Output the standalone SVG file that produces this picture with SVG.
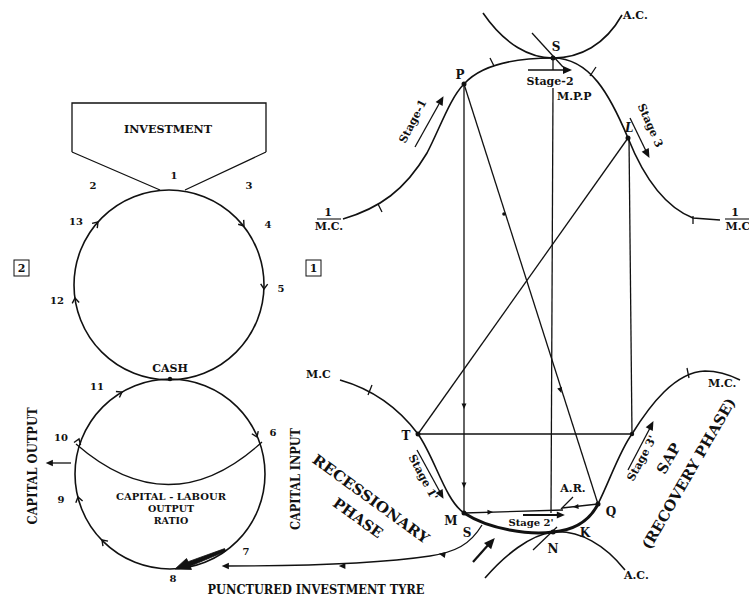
<svg xmlns="http://www.w3.org/2000/svg" width="749" height="598" viewBox="0 0 749 598">
<style>
.ln{fill:none;stroke:#111;stroke-width:1.3}
.cv{fill:none;stroke:#111;stroke-width:1.6}
.bold{fill:none;stroke:#111;stroke-width:3}
.t{font-family:"DejaVu Serif","Liberation Serif",serif;font-weight:bold;fill:#111}
.s10{font-size:10px}
.s11{font-size:11px}
.s12{font-size:12px}
.s13{font-size:13px}
.s15{font-size:14.5px}
.c{text-anchor:middle}
.dot{fill:#111}
</style>
<defs>
<path id="ah" d="M-4.5,-2.5 L1,0 L-4.5,2.5 Z" fill="#111"/>
<path id="big" d="M-8,-4 L1,0 L-8,4 Z" fill="#111"/>
<path id="chev" d="M-5,-3.5 L0,0 L-5,3.5" fill="none" stroke="#111" stroke-width="1.4"/>
</defs>

<!-- LEFT DIAGRAM -->
<g id="investment">
<path class="ln" d="M72,152 L72,103 L266,103 L266,152 M72,152 L160,190 M266,152 L185,190"/>
<text class="t s11 c" x="168" y="133" textLength="88" lengthAdjust="spacingAndGlyphs">INVESTMENT</text>
<text class="t s10 c" x="174" y="179">1</text>
<text class="t s10 c" x="93" y="189">2</text>
<text class="t s10 c" x="249" y="189">3</text>
</g>

<g id="cycle-top">
<circle class="cv" cx="169" cy="285" r="95"/>
<use href="#chev" transform="translate(98,222) rotate(-48)"/>
<use href="#chev" transform="translate(244,226) rotate(52)"/>
<use href="#chev" transform="translate(264,289) rotate(92)"/>
<use href="#chev" transform="translate(75,298) rotate(-98)"/>
<text class="t s10 c" x="76" y="225">13</text>
<text class="t s10 c" x="268" y="228">4</text>
<text class="t s10 c" x="281" y="292">5</text>
<text class="t s10 c" x="57" y="304">12</text>
</g>

<g id="label-2">
<rect x="14" y="260" width="15" height="16" fill="none" stroke="#111" stroke-width="1"/>
<text class="t s11 c" x="21.5" y="272">2</text>
</g>
<g id="label-1">
<rect x="306" y="260" width="15" height="16" fill="none" stroke="#111" stroke-width="1"/>
<text class="t s11 c" x="313.5" y="272">1</text>
</g>

<g id="cash">
<circle class="dot" cx="170" cy="379" r="2.2"/>
<text class="t s11 c" x="170" y="372">CASH</text>
</g>

<g id="cycle-bottom">
<circle class="cv" cx="170" cy="474" r="95"/>
<path class="ln" d="M76,444 Q170,526 262,442"/>
<use href="#chev" transform="translate(122,392) rotate(-30)"/>
<use href="#chev" transform="translate(257,437) rotate(67)"/>
<use href="#chev" transform="translate(79,439) rotate(-70)"/>
<use href="#chev" transform="translate(78,497) rotate(-104)"/>
<use href="#chev" transform="translate(102,540) rotate(-134)"/>
<text class="t s10 c" x="97" y="390">11</text>
<text class="t s10 c" x="61" y="441">10</text>
<text class="t s10 c" x="273" y="436">6</text>
<text class="t s10 c" x="61" y="503">9</text>
<text class="t s10 c" x="246" y="555">7</text>
<text class="t s10 c" x="173" y="582">8</text>
<text class="t c" font-size="9.5" x="171" y="500" textLength="110" lengthAdjust="spacingAndGlyphs">CAPITAL - LABOUR</text>
<text class="t c" font-size="9.5" x="171" y="512">OUTPUT</text>
<text class="t c" font-size="9.5" x="171" y="524">RATIO</text>
<path d="M224.6,548.6 L188.2,561.7 L186.5,558.5 L175,569 L191.5,569.5 L190,566.3 L225.8,551.2 Z" fill="#111" stroke="#111" stroke-width="0.8" stroke-linejoin="round"/>
</g>

<g id="capital-output">
<line class="ln" x1="71" y1="463" x2="50" y2="463"/>
<use href="#ah" transform="translate(47,463) rotate(180) scale(1.3)"/>
<text class="t s12 c" transform="translate(37,466) rotate(-90)" textLength="117" lengthAdjust="spacingAndGlyphs">CAPITAL OUTPUT</text>
</g>
<g id="capital-input">
<text class="t s12 c" transform="translate(300,479) rotate(-90)" textLength="102" lengthAdjust="spacingAndGlyphs">CAPITAL INPUT</text>
</g>

<!-- RIGHT DIAGRAM -->
<g id="curve-top">
<path class="cv" d="M343,219 C380,208 405,190 427,153 C440,128 450,98 464,84 C480,66 510,58 553,58 C590,58 610,95 628,138 C640,168 660,205 693,218 L720,220"/>
<path class="ln" d="M378,204 L382,212 M490,58 L494,66 M590,76 L596,67 M693,216 L693,224"/>
<text class="t s11 c" x="328" y="216">1</text>
<line x1="317" y1="219" x2="341" y2="219" stroke="#111" stroke-width="1.1"/>
<text class="t s11 c" x="329" y="230">M.C.</text>
<text class="t s11 c" x="735" y="216">1</text>
<line x1="725" y1="219" x2="749" y2="219" stroke="#111" stroke-width="1.1"/>
<text class="t s11 c" x="738" y="230">M.C</text>
</g>

<g id="ac-top">
<path class="cv" d="M483,13 C505,45 530,58 553,58 C580,58 605,45 622,15"/>
<line class="ln" x1="532" y1="33" x2="563" y2="67"/>
<text class="t s11" x="623" y="19">A.C.</text>
</g>

<g id="point-S">
<circle class="dot" cx="553" cy="58" r="2.5"/>
<text class="t s12 c" x="556" y="51">S</text>
<line class="ln" x1="553" y1="58" x2="553" y2="70"/>
<line class="ln" x1="528" y1="70" x2="566" y2="70"/>
<use href="#big" transform="translate(571,70)"/>
<text class="t s11 c" x="550" y="85">Stage-2</text>
<text class="t s11" x="557" y="100">M.P.P</text>
</g>

<g id="point-P">
<circle class="dot" cx="464" cy="84" r="2.5"/>
<text class="t s12 c" x="460" y="79">P</text>
</g>

<g id="point-L">
<circle class="dot" cx="628" cy="138" r="2.5"/>
<text class="t s12" x="625" y="132" font-style="italic">L</text>
<line class="ln" x1="630" y1="118" x2="646" y2="151"/>
<use href="#big" transform="translate(649,157) rotate(62)"/>
<text class="t s11 c" transform="translate(647,127) rotate(66)">Stage 3</text>
</g>

<g id="stage-1">
<line class="ln" x1="415" y1="147" x2="439" y2="104"/>
<use href="#big" transform="translate(443,97) rotate(-61)"/>
<text class="t s11 c" transform="translate(416,123) rotate(-63)">Stage-1</text>
</g>

<g id="curve-bottom">
<path class="cv" d="M340,380 C375,390 400,410 418,434 C435,458 445,500 464,513"/>
<path class="bold" d="M464,513 C490,530 530,535 553,532 C575,530 590,520 598,504"/>
<path class="cv" d="M598,504 C610,480 620,450 632,434 C650,405 675,372 705,371 C720,371 730,375 740,380"/>
<path class="ln" d="M372,385 L368,395 M687,368 L689,378"/>
<text class="t s11" x="306" y="378">M.C</text>
<text class="t s11" x="708" y="387">M.C.</text>
</g>

<g id="ac-bottom">
<path class="cv" d="M485,578 C505,555 530,535 553,532 C580,530 605,545 625,570"/>
<line class="ln" x1="533" y1="550" x2="557" y2="527"/>
<text class="t s11" x="624" y="579">A.C.</text>
</g>

<g id="point-T">
<circle class="dot" cx="418" cy="434" r="2.5"/>
<text class="t s12 c" x="406" y="440">T</text>
<line class="ln" x1="417" y1="450" x2="440" y2="492"/>
<use href="#big" transform="translate(443,498) rotate(61)"/>
<text class="t s11 c" transform="translate(420,479) rotate(62)">Stage 1'</text>
</g>

<g id="point-M">
<circle class="dot" cx="464" cy="513" r="2.5"/>
<text class="t s12 c" x="451" y="525">M</text>
<text class="t s12 c" x="467" y="537">S</text>
</g>

<g id="point-Q">
<circle class="dot" cx="598" cy="504" r="2.5"/>
<text class="t s12 c" x="611" y="516">Q</text>
</g>

<g id="point-N">
<circle class="dot" cx="553" cy="532" r="2.5"/>
<text class="t s12 c" x="553" y="553">N</text>
<text class="t s12 c" x="585" y="537">K</text>
</g>

<g id="point-R3">
<circle class="dot" cx="632" cy="434" r="2.2"/>
<line class="ln" x1="628" y1="470" x2="650" y2="428"/>
<use href="#big" transform="translate(653,422) rotate(-62)"/>
<text class="t s11 c" transform="translate(645,460) rotate(-62)">Stage 3'</text>
</g>

<g id="connectors">
<line class="ln" x1="464" y1="84" x2="464" y2="513"/>
<use href="#ah" transform="translate(464,408) rotate(90)"/>
<use href="#ah" transform="translate(464,487) rotate(90)"/>
<line class="ln" x1="464" y1="84" x2="598" y2="504"/>
<circle class="dot" cx="504" cy="214" r="1.8"/>
<use href="#ah" transform="translate(561,392) rotate(72)"/>
<line class="ln" x1="553" y1="88" x2="551" y2="513"/>
<line class="ln" x1="628" y1="138" x2="418" y2="434"/>
<line class="ln" x1="629" y1="138" x2="632" y2="434"/>
<line class="ln" x1="418" y1="434" x2="632" y2="434"/>
<line class="ln" x1="464" y1="513" x2="563" y2="510"/>
<use href="#ah" transform="translate(492,512) rotate(-2)"/>
<line class="ln" x1="598" y1="504" x2="562" y2="508"/>
<use href="#ah" transform="translate(574,507) rotate(174)"/>
<line x1="523" y1="515" x2="558" y2="515" stroke="#111" stroke-width="1.8"/>
<use href="#big" transform="translate(564,515) scale(0.9)"/>
<line class="ln" x1="573" y1="497" x2="561" y2="509"/>
<path class="ln" d="M482,525 C470,545 455,552 430,556 C390,562 330,566 226,566"/>
<use href="#ah" transform="translate(340,566) rotate(180) scale(1.2)"/>
<use href="#ah" transform="translate(440,554) rotate(190) scale(1.2)"/>
<use href="#ah" transform="translate(223,566) rotate(180) scale(1.3)"/>
<line x1="473" y1="562" x2="489" y2="544" stroke="#111" stroke-width="2.2"/>
<use href="#big" transform="translate(494,539) rotate(-48) scale(1.2)"/>
</g>

<g id="labels">
<text class="t s11 c" x="573" y="492">A.R.</text>
<text class="t s10 c" x="531" y="526">Stage 2'</text>
<text class="t s12 c" x="316" y="594" textLength="217" lengthAdjust="spacingAndGlyphs">PUNCTURED INVESTMENT TYRE</text>
<text class="t s15 c" transform="translate(368,503) rotate(36)" textLength="140" lengthAdjust="spacingAndGlyphs">RECESSIONARY</text>
<text class="t s15 c" transform="translate(355,522) rotate(36)">PHASE</text>
<text class="t s15 c" transform="translate(673,461) rotate(-60)">SAP</text>
<text class="t s15 c" transform="translate(693,476) rotate(-60)" textLength="172" lengthAdjust="spacingAndGlyphs">(RECOVERY PHASE)</text>
</g>
</svg>
